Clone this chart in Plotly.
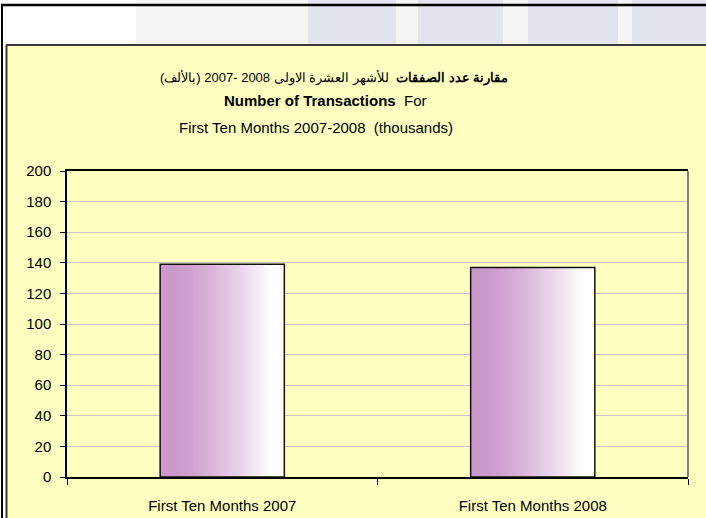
import plotly.graph_objects as go

# ---------------- data ----------------
categories = ["First Ten Months 2007", "First Ten Months 2008"]
transactions = [139, 137]          # thousands
y_tick_values = [0, 20, 40, 60, 80, 100, 120, 140, 160, 180, 200]

title_ar_bold = "مقارنة عدد الصفقات"
title_ar_rest = "للأشهر العشرة الاولى 2008 -2007 (بالألف)"
title_en_bold = "Number of Transactions"
title_en_rest = "For"
title_line3 = "First Ten Months 2007-2008  (thousands)"

# ---------------- geometry / style ----------------
W, H = 706, 518
L, R, T, B = 67, 18, 171, 41
PW, PH = W - L - R, H - T - B

def px(x):
    return (x - L) / PW

def py(y):
    return (H - B - y) / PH

FONT = "Liberation Sans Narrow, Arial Narrow, Liberation Sans, Arial, sans-serif"
FS = 15
YELLOW = "#FFFFC2"

fig = go.Figure()

# gradient bars built from thin slices
BW = 0.40
N = 60
for i in range(N):
    t = (i + 0.5) / N
    f = min(max((t - 0.12) / 0.78, 0.0), 1.0) ** 1.35
    r = round(204 + (255 - 204) * f)
    g = round(153 + (255 - 153) * f)
    b = round(204 + (255 - 204) * f)
    w = BW / N * (1.6 if i < N - 1 else 1.0)
    fig.add_trace(go.Bar(
        x=categories, y=transactions,
        width=[w] * len(categories),
        offset=[-BW / 2 + i * BW / N] * len(categories),
        marker=dict(color=f"rgb({r},{g},{b})", line=dict(width=0)),
        hoverinfo="skip", showlegend=False,
    ))
# outline
fig.add_trace(go.Bar(
    x=categories, y=transactions,
    width=[BW] * len(categories),
    offset=[-BW / 2] * len(categories),
    marker=dict(color="rgba(0,0,0,0)", line=dict(color="#111111", width=1.5)),
    showlegend=False,
))

shapes = []
def rect(x0, y0, x1, y1, color):
    shapes.append(dict(type="rect", xref="paper", yref="paper", layer="below",
                       x0=px(x0), x1=px(x1), y0=py(y1), y1=py(y0),
                       fillcolor=color, line=dict(width=0)))

def line(x0, y0, x1, y1, color, width, layer="above"):
    shapes.append(dict(type="line", xref="paper", yref="paper", layer=layer,
                       x0=px(x0), x1=px(x1), y0=py(y0), y1=py(y1),
                       line=dict(color=color, width=width)))

# page background decoration
rect(136, 0, 706, 45, "#F4F4F4")
for a, bb in [(308, 396), (418, 503), (528, 618), (632, 706)]:
    rect(a, 0, bb, 45, "#E3E5EE")
# chart area
rect(6, 45, 706, 518, YELLOW)
line(6, 45, 706, 45, "#3A3A3A", 2)
line(6.5, 45, 6.5, 518, "#3A3A3A", 2)
# outer frame
line(1, 5, 706, 5, "#000000", 2.5)
line(2, 4, 2, 518, "#000000", 2)
# plot-area right border
line(L + PW, T, L + PW, H - B, "#808080", 2)

annotations = [
    dict(text="\u202B<b>" + title_ar_bold + "</b>  " + title_ar_rest + "\u202C",
         x=px(334), y=py(77), font=dict(family=FONT, size=13, color="#000000")),
    dict(text="<b>" + title_en_bold + "</b>  " + title_en_rest,
         x=px(325), y=py(101), font=dict(family=FONT, size=FS, color="#000000")),
    dict(text=title_line3, x=px(316), y=py(127),
         font=dict(family=FONT, size=FS, color="#000000")),
]
for a in annotations:
    a.update(xref="paper", yref="paper", xanchor="center", yanchor="middle",
             showarrow=False)

fig.update_layout(
    width=W, height=H,
    margin=dict(l=L, r=R, t=T, b=B, pad=0, autoexpand=False),
    paper_bgcolor="#FFFFFF",
    plot_bgcolor="rgba(0,0,0,0)",
    barmode="overlay",
    showlegend=False,
    font=dict(family=FONT, size=FS, color="#000000"),
    shapes=shapes,
    annotations=annotations,
    xaxis=dict(
        type="category", showgrid=False, zeroline=False, automargin=False,
        showline=True, linecolor="#000000", linewidth=1.5, mirror=True,
        ticks="outside", ticklen=6, tickcolor="#000000", tickwidth=1,
        tickson="boundaries", ticklabelstandoff=14,
        tickfont=dict(family=FONT, size=FS),
    ),
    yaxis=dict(
        range=[0, 200], tickvals=y_tick_values, showgrid=True, automargin=False,
        gridcolor="#C4C4C4", gridwidth=1, zeroline=False,
        showline=True, linecolor="#000000", linewidth=1.5,
        ticks="outside", ticklen=5, tickcolor="#000000", tickwidth=1,
        ticklabelstandoff=6,
        tickfont=dict(family=FONT, size=FS),
    ),
)

fig.write_html("out.html", config={"displayModeBar": False},
               post_script="document.body.style.margin='0';document.body.style.overflow='hidden';")
